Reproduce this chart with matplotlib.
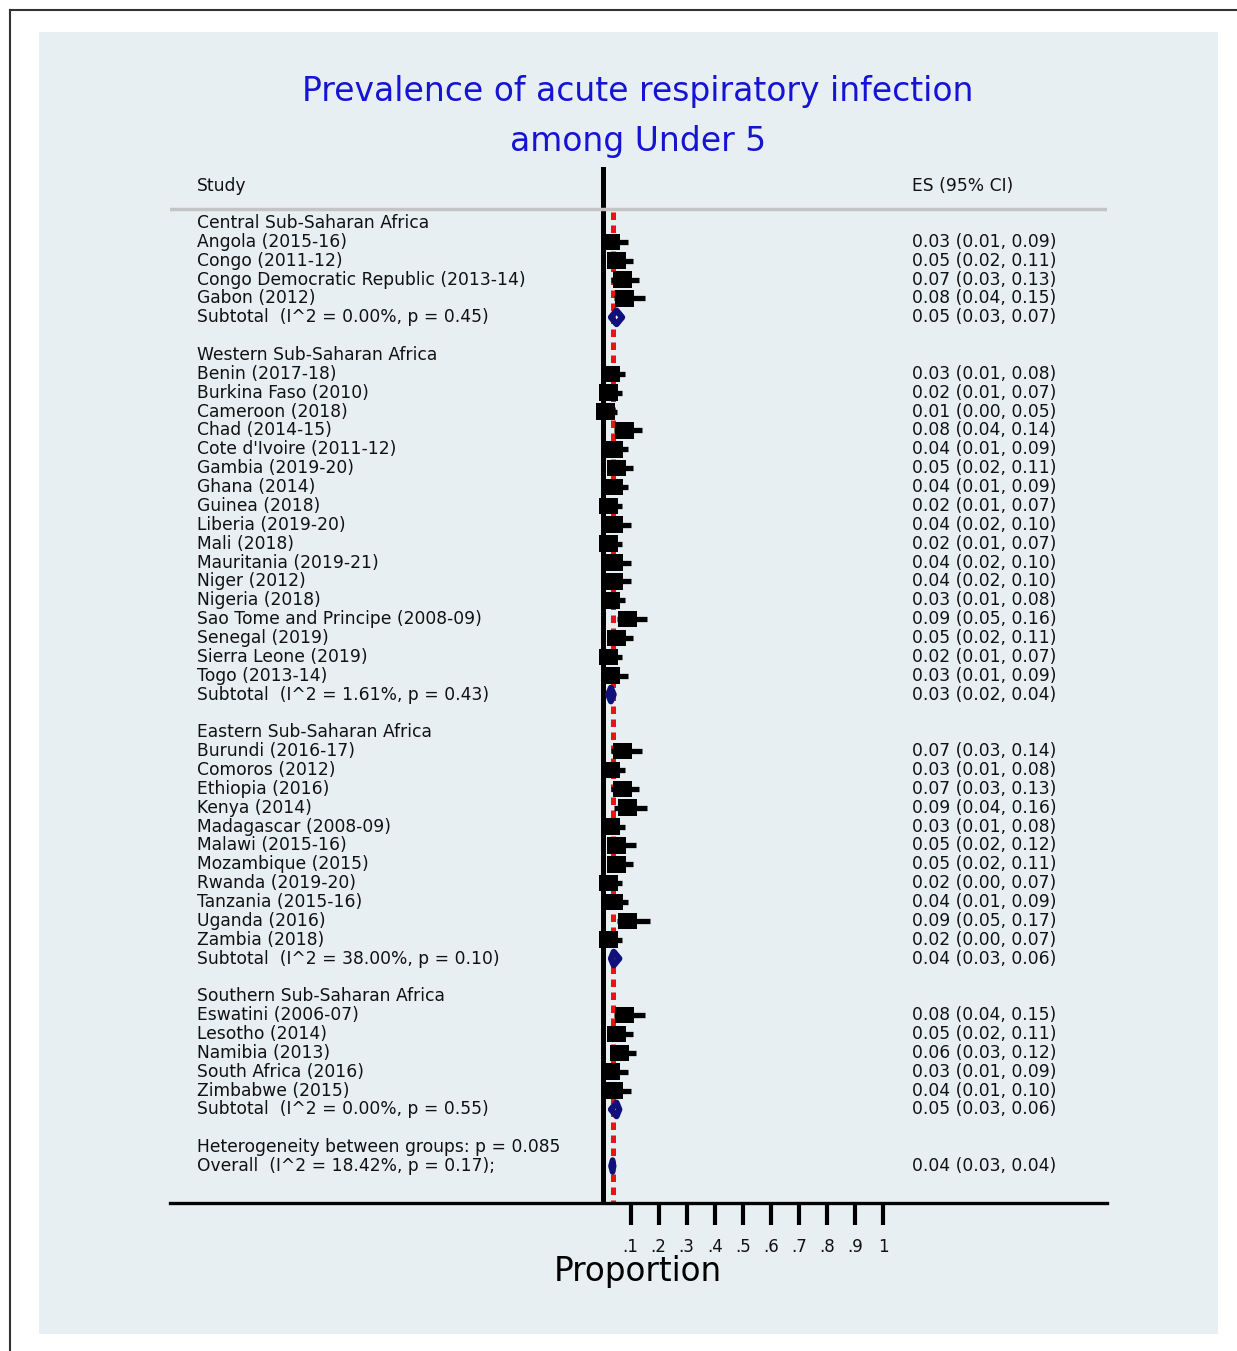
import matplotlib
matplotlib.use("Agg")
import matplotlib.pyplot as plt
from matplotlib.patches import Rectangle, Polygon
from matplotlib.lines import Line2D
from matplotlib.transforms import blended_transform_factory

plt.rcParams['font.family'] = ['DejaVu Sans']

# ---- data ----
regions = ["Central Sub-Saharan Africa", "Western Sub-Saharan Africa",
           "Eastern Sub-Saharan Africa", "Southern Sub-Saharan Africa"]

central_studies = ["Angola (2015-16)", "Congo (2011-12)",
                   "Congo Democratic Republic (2013-14)", "Gabon (2012)"]
central_es = [0.03, 0.05, 0.07, 0.08]
central_lo = [0.01, 0.02, 0.03, 0.04]
central_hi = [0.09, 0.11, 0.13, 0.15]

western_studies = ["Benin (2017-18)", "Burkina Faso (2010)", "Cameroon (2018)",
                   "Chad (2014-15)", "Cote d'Ivoire (2011-12)", "Gambia (2019-20)",
                   "Ghana (2014)", "Guinea (2018)", "Liberia (2019-20)", "Mali (2018)",
                   "Mauritania (2019-21)", "Niger (2012)", "Nigeria (2018)",
                   "Sao Tome and Principe (2008-09)", "Senegal (2019)",
                   "Sierra Leone (2019)", "Togo (2013-14)"]
western_es = [0.03, 0.02, 0.01, 0.08, 0.04, 0.05, 0.04, 0.02, 0.04, 0.02,
              0.04, 0.04, 0.03, 0.09, 0.05, 0.02, 0.03]
western_lo = [0.01, 0.01, 0.00, 0.04, 0.01, 0.02, 0.01, 0.01, 0.02, 0.01,
              0.02, 0.02, 0.01, 0.05, 0.02, 0.01, 0.01]
western_hi = [0.08, 0.07, 0.05, 0.14, 0.09, 0.11, 0.09, 0.07, 0.10, 0.07,
              0.10, 0.10, 0.08, 0.16, 0.11, 0.07, 0.09]

eastern_studies = ["Burundi (2016-17)", "Comoros (2012)", "Ethiopia (2016)",
                   "Kenya (2014)", "Madagascar (2008-09)", "Malawi (2015-16)",
                   "Mozambique (2015)", "Rwanda (2019-20)", "Tanzania (2015-16)",
                   "Uganda (2016)", "Zambia (2018)"]
eastern_es = [0.07, 0.03, 0.07, 0.09, 0.03, 0.05, 0.05, 0.02, 0.04, 0.09, 0.02]
eastern_lo = [0.03, 0.01, 0.03, 0.04, 0.01, 0.02, 0.02, 0.00, 0.01, 0.05, 0.00]
eastern_hi = [0.14, 0.08, 0.13, 0.16, 0.08, 0.12, 0.11, 0.07, 0.09, 0.17, 0.07]

southern_studies = ["Eswatini (2006-07)", "Lesotho (2014)", "Namibia (2013)",
                    "South Africa (2016)", "Zimbabwe (2015)"]
southern_es = [0.08, 0.05, 0.06, 0.03, 0.04]
southern_lo = [0.04, 0.02, 0.03, 0.01, 0.01]
southern_hi = [0.15, 0.11, 0.12, 0.09, 0.10]

sub_es = [0.05, 0.03, 0.04, 0.05]
sub_lo = [0.03, 0.02, 0.03, 0.03]
sub_hi = [0.07, 0.04, 0.06, 0.06]
sub_i2 = [0.00, 1.61, 38.00, 0.00]
sub_p = [0.45, 0.43, 0.10, 0.55]

overall_es, overall_lo, overall_hi = 0.036, 0.03, 0.04
overall_i2, overall_p = 18.42, 0.17
het_p = 0.085

tick_vals = [0.1, 0.2, 0.3, 0.4, 0.5, 0.6, 0.7, 0.8, 0.9, 1.0]
tick_labels = [".1", ".2", ".3", ".4", ".5", ".6", ".7", ".8", ".9", "1"]

groups = [
    (central_studies, central_es, central_lo, central_hi),
    (western_studies, western_es, western_lo, western_hi),
    (eastern_studies, eastern_es, eastern_lo, eastern_hi),
    (southern_studies, southern_es, southern_lo, southern_hi),
]

# ---- figure ----
W, H = 1237, 1351
fig = plt.figure(figsize=(W / 100, H / 100), dpi=100)
fig.patches.append(Rectangle((39 / W, 1 - 1334 / H), (1218 - 39) / W, (1334 - 32) / H,
                             transform=fig.transFigure, facecolor='#e8eff2',
                             edgecolor='none', zorder=-10))
fig.lines.append(Line2D([10 / W, 10 / W], [0, 1 - 10 / H], transform=fig.transFigure,
                        color='#333333', lw=1.5))
fig.lines.append(Line2D([10 / W, 1], [1 - 10 / H, 1 - 10 / H], transform=fig.transFigure,
                        color='#333333', lw=1.5))

ax = fig.add_axes([170 / W, 1 - 1203 / H, (1107 - 170) / W, (1203 - 167) / H])
ax.set_facecolor('none')
x0, pxu = 602.5, 280.6
ax.set_xlim((170 - x0) / pxu, (1107 - x0) / pxu)
ax.set_ylim(51.96, -2.97)

tr = blended_transform_factory(ax.transAxes, ax.transData)
fs = 12.3
txt_col = '#111111'
lab_x = (197 - 170) / 937
es_x = (912 - 170) / 937
box_w = 19 / pxu
box_h = 0.88
navy = '#10107a'


def fmt(e, l, h):
    return f"{e:.2f} ({l:.2f}, {h:.2f})"


def label(x, y, s):
    ax.text(x, y, s, transform=tr, fontsize=fs, va='center', color=txt_col)


label(lab_x, -1.96, "Study")
label(es_x, -1.96, "ES (95% CI)")

row = 0
for gi, (names, es, lo, hi) in enumerate(groups):
    label(lab_x, row, regions[gi])
    row += 1
    for n, e, l, h in zip(names, es, lo, hi):
        label(lab_x, row, n)
        label(es_x, row, fmt(e, l, h))
        ax.hlines(row, l, h, color='black', lw=3.8, zorder=3)
        ax.add_patch(Rectangle((e - box_w / 2, row - box_h / 2), box_w, box_h,
                               facecolor='black', edgecolor='none', zorder=3))
        row += 1
    label(lab_x, row, f"Subtotal  (I^2 = {sub_i2[gi]:.2f}%, p = {sub_p[gi]:.2f})")
    label(es_x, row, fmt(sub_es[gi], sub_lo[gi], sub_hi[gi]))
    ax.add_patch(Polygon([(sub_lo[gi], row), (sub_es[gi], row - 0.36),
                          (sub_hi[gi], row), (sub_es[gi], row + 0.36)],
                         closed=True, facecolor='none', edgecolor=navy,
                         lw=4.4, joinstyle='round', zorder=4))
    row += 2

label(lab_x, row, f"Heterogeneity between groups: p = {het_p:.3f}")
row += 1
label(lab_x, row, f"Overall  (I^2 = {overall_i2:.2f}%, p = {overall_p:.2f});")
label(es_x, row, fmt(overall_es, overall_lo, overall_hi))
ax.add_patch(Polygon([(overall_lo, row), (overall_es, row - 0.32),
                      (overall_hi, row), (overall_es, row + 0.32)],
                     closed=True, facecolor=navy, edgecolor=navy,
                     lw=4.0, joinstyle='round', zorder=4))

# reference lines
ax.plot([overall_es, overall_es], [-0.58, 51.96], color='#ee1111', lw=3.6,
        linestyle=(0, (1.5, 1.1)), zorder=1, solid_capstyle='butt')
ax.plot([0, 0], [-2.97, 51.96], color='black', lw=3.6, zorder=2)
ax.plot(ax.get_xlim(), [-0.74, -0.74], color='#c4c4c4', lw=2.5, zorder=5)

# axis
for s in ['left', 'right', 'top']:
    ax.spines[s].set_visible(False)
ax.spines['bottom'].set_linewidth(2.4)
ax.set_yticks([])
ax.set_xticks(tick_vals)
ax.set_xticklabels(tick_labels, fontsize=12, color=txt_col)
ax.tick_params(axis='x', direction='out', length=16, width=3, pad=9)

fig.text(638 / W, 1 - 1272 / H, "Proportion", fontsize=23.5, ha='center', va='center')
fig.text(638 / W, 1 - 101 / H, "Prevalence of acute respiratory infection",
         fontsize=23.8, color='#1414d2', ha='center', va='baseline')
fig.text(638 / W, 1 - 151 / H, "among Under 5", fontsize=23.8, color='#1414d2',
         ha='center', va='baseline')

fig.savefig("out.png", dpi=100)
